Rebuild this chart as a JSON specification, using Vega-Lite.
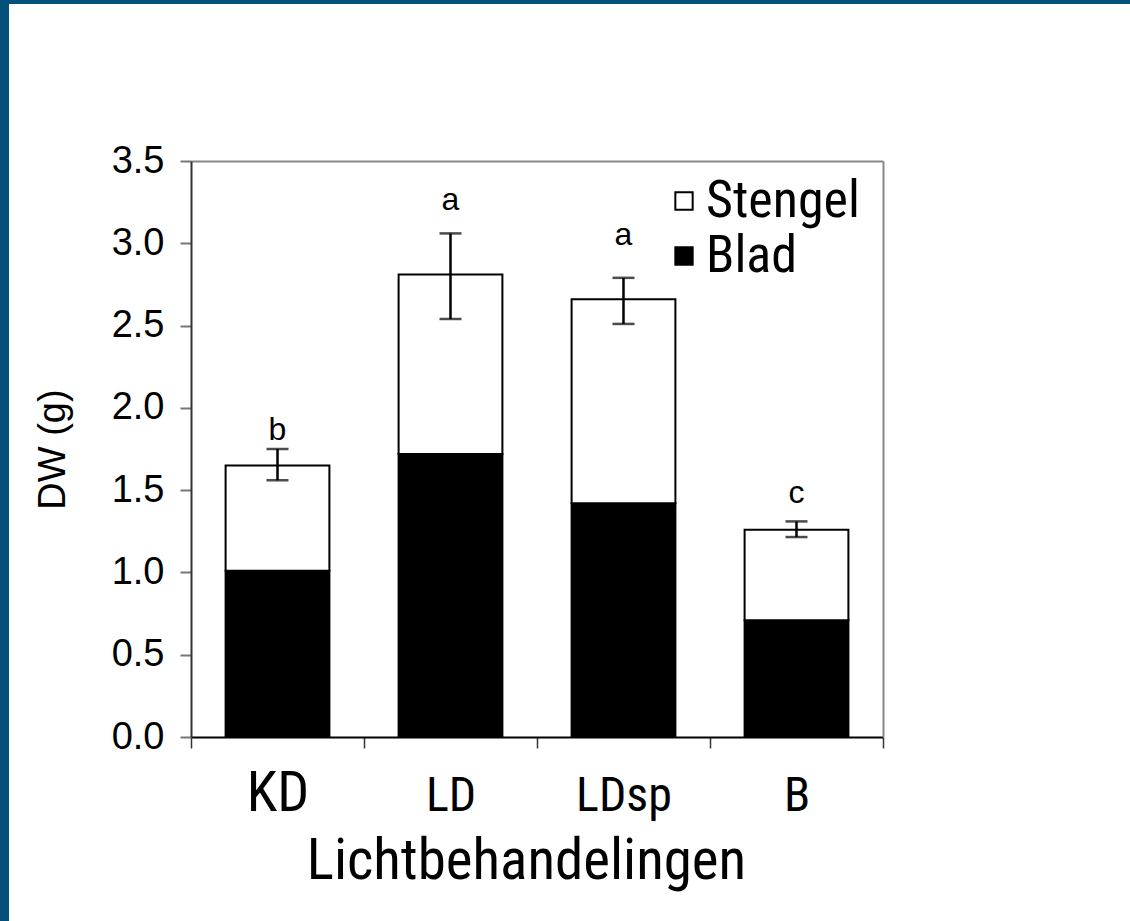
{
  "$schema": "https://vega.github.io/schema/vega-lite/v6.json",
  "width": 1121,
  "height": 917,
  "autosize": {"type": "none"},
  "padding": {"left": 9, "top": 4, "right": 0, "bottom": 0},
  "background": "#03507b",
  "config": {"view": {"fill": "white", "stroke": null}, "font": "Liberation Sans"},
  "datasets": {
    "parts": [
      {"cat": "KD", "part": "Blad", "value": 1.01},
      {"cat": "KD", "part": "Stengel", "value": 0.64},
      {"cat": "LD", "part": "Blad", "value": 1.72},
      {"cat": "LD", "part": "Stengel", "value": 1.09},
      {"cat": "LDsp", "part": "Blad", "value": 1.42},
      {"cat": "LDsp", "part": "Stengel", "value": 1.24},
      {"cat": "B", "part": "Blad", "value": 0.71},
      {"cat": "B", "part": "Stengel", "value": 0.55}
    ],
    "errs": [
      {"cat": "KD", "lo": 1.56, "hi": 1.75, "label": "b", "labelY": 1.865},
      {"cat": "LD", "lo": 2.54, "hi": 3.06, "label": "a", "labelY": 3.26},
      {"cat": "LDsp", "lo": 2.51, "hi": 2.79, "label": "a", "labelY": 3.05},
      {"cat": "B", "lo": 1.215, "hi": 1.31, "label": "c", "labelY": 1.48}
    ]
  },
  "layer": [
    {
      "data": {"name": "parts"},
      "mark": {"type": "bar", "stroke": "black", "strokeWidth": 2, "width": {"band": 0.6}},
      "encoding": {
        "x": {
          "field": "cat", "type": "nominal", "sort": ["KD", "LD", "LDsp", "B"],
          "scale": {"range": [182, 874], "paddingInner": 0, "paddingOuter": 0},
          "axis": {
            "orient": "bottom", "offset": -184,
            "title": "Lichtbehandelingen", "titleFont": "Roboto Condensed", "titleFontSize": 57,
            "titleFontWeight": "normal", "titleColor": "black", "titlePadding": 12,
            "titleX": 517,
            "labelAngle": 0,
            "labelFont": "Roboto Condensed",
            "labelFontSize": {"condition": {"test": "datum.value === 'KD'", "value": 56}, "value": 48},
            "labelBaseline": "alphabetic",
            "labelColor": "black", "labelPadding": 62,
            "tickBand": "extent", "tickSize": 11, "tickColor": "#333", "tickWidth": 1.5,
            "domainColor": "black", "domainWidth": 2
          }
        },
        "y": {
          "field": "value", "type": "quantitative", "stack": "zero",
          "scale": {"domain": [0, 3.5], "range": [733, 157], "nice": false},
          "axis": {
            "orient": "left", "offset": -182,
            "values": [0, 0.5, 1, 1.5, 2, 2.5, 3, 3.5], "format": ".1f",
            "title": "DW (g)", "titleFontSize": 38, "titleFontWeight": "normal", "titleColor": "black",
            "titlePadding": 39,
            "labelFontSize": 38, "labelColor": "black", "labelPadding": 16,
            "tickSize": 11, "tickColor": "#777", "tickWidth": 2,
            "domainColor": "#333", "domainWidth": 2, "grid": false
          }
        },
        "color": {
          "field": "part", "type": "nominal",
          "scale": {"domain": ["Stengel", "Blad"], "range": ["white", "black"]},
          "legend": {
            "title": null, "orient": "none", "legendX": 649, "legendY": 171,
            "symbolType": "square", "symbolSize": 300, "symbolStrokeColor": "black", "symbolStrokeWidth": 2,
            "labelFont": "Roboto Condensed", "labelFontSize": 52, "labelColor": "black",
            "labelOffset": -4, "rowPadding": 3, "labelLimit": 400
          }
        },
        "order": {"field": "part", "sort": "ascending"}
      }
    },
    {
      "data": {"name": "errs"},
      "mark": {"type": "rule", "strokeWidth": 2.5, "color": "black"},
      "encoding": {
        "x": {
          "field": "cat", "type": "nominal", "sort": ["KD", "LD", "LDsp", "B"],
          "axis": {"orient": "top", "offset": -157, "labels": false, "ticks": false, "title": null, "domainColor": "#888", "domainWidth": 2}
        },
        "y": {
          "field": "lo", "type": "quantitative",
          "axis": {"orient": "right", "offset": -247, "labels": false, "ticks": false, "title": null, "domainColor": "#888", "domainWidth": 2, "grid": false}
        },
        "y2": {"field": "hi"}
      }
    },
    {
      "data": {"name": "errs"},
      "mark": {"type": "tick", "thickness": 2.5, "size": 22, "color": "black"},
      "encoding": {
        "x": {"field": "cat", "type": "nominal", "sort": ["KD", "LD", "LDsp", "B"], "axis": null},
        "y": {"field": "lo", "type": "quantitative", "axis": null}
      }
    },
    {
      "data": {"name": "errs"},
      "mark": {"type": "tick", "thickness": 2.5, "size": 22, "color": "black"},
      "encoding": {
        "x": {"field": "cat", "type": "nominal", "sort": ["KD", "LD", "LDsp", "B"], "axis": null},
        "y": {"field": "hi", "type": "quantitative", "axis": null}
      }
    },
    {
      "data": {"name": "errs"},
      "mark": {"type": "text", "fontSize": 32, "font": "Liberation Sans", "color": "black", "baseline": "middle"},
      "encoding": {
        "x": {"field": "cat", "type": "nominal", "sort": ["KD", "LD", "LDsp", "B"], "axis": null},
        "y": {"field": "labelY", "type": "quantitative", "axis": null},
        "text": {"field": "label"}
      }
    }
  ],
  "resolve": {"axis": {"x": "independent", "y": "independent"}}
}
